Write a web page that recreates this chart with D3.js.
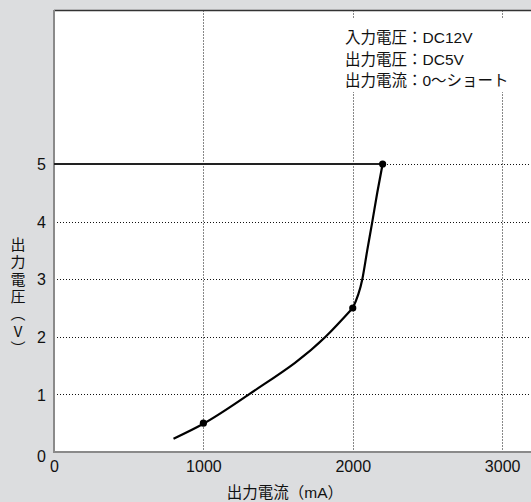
<!DOCTYPE html>
<html><head><meta charset="utf-8">
<script src="https://cdn.jsdelivr.net/npm/d3@7"></script>
<style>html,body{margin:0;padding:0;background:#dcdddf;}svg{display:block;}</style>
</head><body>
<svg id="c" width="531" height="502"></svg>
<script>
const xTicks = [0, 1000, 2000, 3000];
const yTicks = [0, 1, 2, 3, 4, 5];
const flatX = [0, 2200];
const flatY = [5, 5];
const lowerX = [800, 1000, 1305, 1818, 2000];
const lowerY = [0.23, 0.49, 1.0, 2.0, 2.5];
const upperX = [2000, 2064, 2097, 2131, 2164, 2200];
const upperY = [2.5, 3.0, 3.5, 4.0, 4.5, 5.0];
const dotX = [1000, 2000, 2200];
const dotY = [0.5, 2.5, 5];
const legendLines = ["入力電圧：DC12V", "出力電圧：DC5V", "出力電流：0〜ショート"];
const xTitle = "出力電流（mA）";
const yTitle = "出力電圧（V）";

const W = 531, H = 502;
const pL = 54, pR = 532, pT = 10.5, pB = 452;
const x = d3.scaleLinear().domain([0, 3200]).range([pL, pR]);
const y = d3.scaleLinear().domain([0, 7.665]).range([pB, pT]);

const svg = d3.select("#c");
const font = "'Liberation Sans', 'Noto Sans CJK JP', sans-serif";
const cjk = "'Noto Sans CJK JP', sans-serif";

svg.append("rect").attr("width", W).attr("height", H).attr("fill", "#dcdddf");
svg.append("rect").attr("x", pL).attr("y", pT).attr("width", W - pL).attr("height", pB - pT).attr("fill", "#fff");

// gridlines
const g = svg.append("g").attr("stroke", "#111").attr("stroke-width", 1).attr("stroke-dasharray", "1,2");
g.selectAll(".vg").data(xTicks.filter(d => d > 0)).join("line")
  .attr("x1", d => Math.round(x(d)) + 0.5).attr("x2", d => Math.round(x(d)) + 0.5)
  .attr("y1", pT).attr("y2", pB);
g.selectAll(".hg").data(yTicks.filter(d => d > 0)).join("line")
  .attr("y1", d => Math.round(y(d)) + 0.5).attr("y2", d => Math.round(y(d)) + 0.5)
  .attr("x1", pL).attr("x2", W);

// legend box covering grid
svg.append("rect").attr("x", 340).attr("y", 18).attr("width", 175).attr("height", 74).attr("fill", "#fff");
svg.append("g").selectAll("text").data(legendLines).join("text")
  .attr("x", 345).attr("y", (d, i) => 43 + i * 21.5)
  .attr("font-family", font).attr("font-size", 15.5).attr("fill", "#111")
  .text(d => d);

// frame
svg.append("line").attr("x1", pL).attr("x2", W).attr("y1", pT).attr("y2", pT).attr("stroke", "#333").attr("stroke-width", 1.5);
svg.append("line").attr("x1", pL).attr("x2", pL).attr("y1", pT - 0.5).attr("y2", pB + 1).attr("stroke", "#8a8a8a").attr("stroke-width", 2);
svg.append("line").attr("x1", pL).attr("x2", W).attr("y1", pB).attr("y2", pB).attr("stroke", "#8a8a8a").attr("stroke-width", 2);

// axes labels via d3 axes
const xAxis = d3.axisBottom(x).tickValues(xTicks).tickFormat(d3.format("d")).tickSize(0).tickPadding(9);
const xa = svg.append("g").attr("transform", `translate(0,${pB})`).call(xAxis);
xa.select(".domain").remove();
xa.selectAll("text").attr("font-family", font).attr("font-size", 16).attr("fill", "#111");

const yAxis = d3.axisLeft(y).tickValues(yTicks).tickFormat(d3.format("d")).tickSize(0).tickPadding(8);
const ya = svg.append("g").attr("transform", `translate(${pL},0)`).call(yAxis);
ya.select(".domain").remove();
ya.selectAll("text").attr("font-family", font).attr("font-size", 16).attr("fill", "#111")
  .attr("dy", d => d === 0 ? "0.6em" : "0.35em");

// titles
svg.append("text").attr("x", 285).attr("y", 498).attr("text-anchor", "middle")
  .attr("font-family", font).attr("font-size", 15.5).attr("fill", "#111").text(xTitle);
svg.append("text").attr("x", 18).attr("y", 237)
  .attr("font-family", cjk).attr("font-size", 15).attr("fill", "#111")
  .attr("letter-spacing", 2.3)
  .style("writing-mode", "vertical-rl").style("text-orientation", "upright")
  .text(yTitle);

// data lines
const line = d3.line().x(d => x(d[0])).y(d => y(d[1]));
svg.append("path").datum(flatX.map((v, i) => [v, flatY[i]]))
  .attr("d", line).attr("fill", "none").attr("stroke", "#222").attr("stroke-width", 2.2);
const curve = d3.line().x(d => x(d[0])).y(d => y(d[1])).curve(d3.curveMonotoneX);
svg.append("path").datum(lowerX.map((v, i) => [v, lowerY[i]]))
  .attr("d", curve).attr("fill", "none").attr("stroke", "#000").attr("stroke-width", 2.2);
svg.append("path").datum(upperX.map((v, i) => [v, upperY[i]]))
  .attr("d", curve).attr("fill", "none").attr("stroke", "#000").attr("stroke-width", 2.2);
svg.append("g").selectAll("circle").data(dotX.map((v, i) => [v, dotY[i]])).join("circle")
  .attr("cx", d => x(d[0])).attr("cy", d => y(d[1])).attr("r", 3.6).attr("fill", "#000");
</script>
</body></html>
